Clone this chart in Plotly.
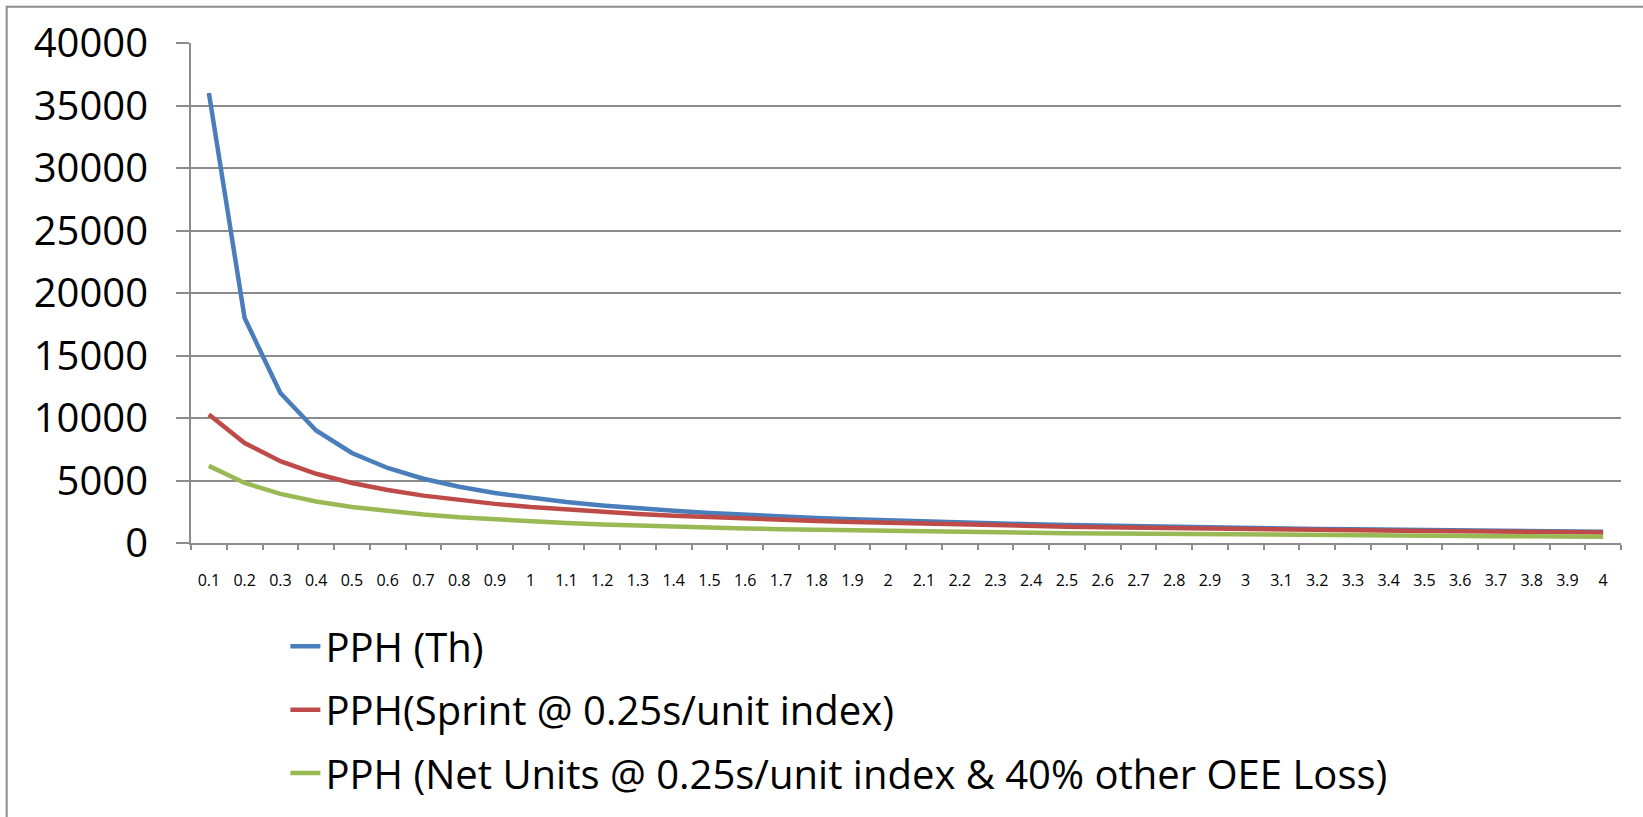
import plotly.graph_objects as go

# Cycle time categories (seconds per unit)
x_labels = ["0.1", "0.2", "0.3", "0.4", "0.5", "0.6", "0.7", "0.8", "0.9", "1",
            "1.1", "1.2", "1.3", "1.4", "1.5", "1.6", "1.7", "1.8", "1.9", "2",
            "2.1", "2.2", "2.3", "2.4", "2.5", "2.6", "2.7", "2.8", "2.9", "3",
            "3.1", "3.2", "3.3", "3.4", "3.5", "3.6", "3.7", "3.8", "3.9", "4"]

# Theoretical parts per hour
pph_th = [36000, 18000, 12000, 9000, 7200, 6000, 5143, 4500, 4000, 3600,
          3273, 3000, 2769, 2571, 2400, 2250, 2118, 2000, 1895, 1800,
          1714, 1636, 1565, 1500, 1440, 1385, 1333, 1286, 1241, 1200,
          1161, 1125, 1091, 1059, 1029, 1000, 973, 947, 923, 900]

# Parts per hour with 0.25 s index time per unit
pph_sprint = [10286, 8000, 6545, 5538, 4800, 4235, 3789, 3429, 3130, 2880,
              2667, 2483, 2323, 2182, 2057, 1946, 1846, 1756, 1674, 1600,
              1532, 1469, 1412, 1358, 1309, 1263, 1220, 1180, 1143, 1108,
              1075, 1043, 1014, 986, 960, 935, 911, 889, 867, 847]

# Net units after index time and other OEE losses
pph_net = [6171, 4800, 3927, 3323, 2880, 2541, 2274, 2057, 1878, 1728,
           1600, 1490, 1394, 1309, 1234, 1168, 1108, 1054, 1005, 960,
           919, 882, 847, 815, 785, 758, 732, 708, 686, 665,
           645, 626, 608, 592, 576, 561, 547, 533, 520, 508]

series_names = ["PPH (Th)",
                "PPH(Sprint @ 0.25s/unit index)",
                "PPH (Net Units @ 0.25s/unit index & 40% other OEE Loss)"]
series_colors = ["#4A7EBB", "#BE4B48", "#98B954"]
legend_ids = ["legend", "legend2", "legend3"]
legend_rows = [-0.2067, -0.3336, -0.460]

FONT = "Open Sans"
GRID = "#8c8c8c"

fig = go.Figure()
for name, vals, color, lg in zip(series_names, [pph_th, pph_sprint, pph_net],
                                 series_colors, legend_ids):
    fig.add_trace(go.Scatter(x=x_labels, y=vals, mode="lines", name=name,
                             line=dict(color=color, width=4.5), legend=lg))

legend_common = dict(x=0.066, xanchor="left", yanchor="middle",
                     bgcolor="rgba(0,0,0,0)", borderwidth=0,
                     font=dict(family=FONT, size=40, color="black"))
layout_legends = {}
for lg, yy in zip(legend_ids, legend_rows):
    layout_legends[lg] = dict(legend_common, y=yy)

fig.update_layout(
    width=1643, height=817,
    margin=dict(l=191, r=22, t=43, b=267),
    paper_bgcolor="white", plot_bgcolor="white",
    showlegend=True,
    **layout_legends,
    xaxis=dict(type="category", tickvals=x_labels, ticktext=x_labels,
               range=[-0.5, len(x_labels) - 0.5],
               showgrid=False, showline=True, linecolor=GRID, linewidth=2,
               ticks="outside", tickson="boundaries", ticklen=5,
               tickcolor=GRID, tickwidth=1.5,
               tickfont=dict(family=FONT, size=16, color="black"),
               ticklabelstandoff=22, zeroline=False),
    yaxis=dict(range=[0, 40000], dtick=5000, tick0=0, tickformat="d",
               showgrid=True, gridcolor=GRID, gridwidth=1.5,
               showline=True, linecolor=GRID, linewidth=2,
               ticks="outside", ticklen=13, tickcolor=GRID, tickwidth=1.5,
               tickfont=dict(family=FONT, size=40, color="black"),
               ticklabelstandoff=20, zeroline=False),
    shapes=[dict(type="rect", xref="paper", yref="paper",
                 x0=-0.1289, x1=1.2, y0=-0.7, y1=1.0723,
                 line=dict(color=GRID, width=2), fillcolor="rgba(0,0,0,0)",
                 layer="below")],
)

fig.write_html("out.html")
